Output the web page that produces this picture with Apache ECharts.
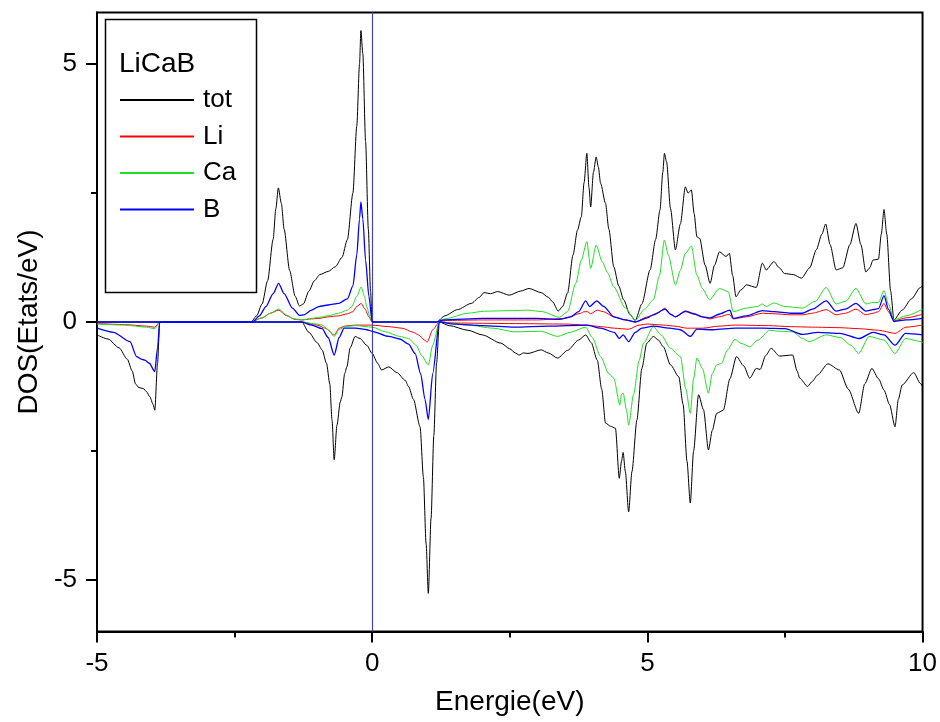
<!DOCTYPE html>
<html>
<head>
<meta charset="utf-8">
<script src="https://cdn.jsdelivr.net/npm/echarts@6/dist/echarts.min.js"></script>
<style>html,body{margin:0;padding:0;background:#fff}#c{width:940px;height:722px}</style>
</head>
<body>
<div id="c"></div>
<script>
// Energy (eV) / DOS (states/eV) pairs, spin up (positive) and spin down (negative)
var totUp = [[-5,0],[-2.2,0],[-2.1,0.12],[-2.0,0.35],[-1.9,0.8],[-1.8,1.6],[-1.75,2.2],[-1.705,2.6],[-1.65,2.3],[-1.6,1.8],[-1.5,1.0],[-1.4,0.5],[-1.32,0.31],[-1.25,0.35],[-1.15,0.6],[-1.05,0.8],[-0.95,0.92],[-0.8,0.98],[-0.67,1.07],[-0.55,1.25],[-0.45,1.6],[-0.35,2.5],[-0.28,3.8],[-0.23,5.0],[-0.205,5.65],[-0.17,5.2],[-0.12,3.5],[-0.07,1.8],[-0.03,0.6],[0,0],[1.17,0],[1.32,0.12],[1.55,0.24],[1.8,0.36],[1.95,0.48],[2.03,0.57],[2.15,0.55],[2.28,0.59],[2.49,0.52],[2.7,0.6],[2.85,0.65],[3.07,0.57],[3.2,0.48],[3.28,0.39],[3.38,0.21],[3.46,0.3],[3.55,0.56],[3.65,1.3],[3.73,1.78],[3.8,2.04],[3.85,2.7],[3.9,3.27],[3.94,2.6],[3.97,2.23],[4.02,2.9],[4.07,3.2],[4.11,3.0],[4.15,2.69],[4.24,2.3],[4.3,1.8],[4.39,1.07],[4.48,0.7],[4.57,0.43],[4.68,0.15],[4.78,0.03],[4.9,0.35],[5.05,1.01],[5.15,1.6],[5.23,2.17],[5.28,2.9],[5.31,3.27],[5.35,3.1],[5.42,2.2],[5.51,1.4],[5.6,1.9],[5.69,2.62],[5.74,2.5],[5.8,2.56],[5.85,2.1],[5.9,1.65],[5.95,1.62],[6.05,1.1],[6.14,0.75],[6.22,1.1],[6.31,1.36],[6.43,1.27],[6.49,1.33],[6.55,0.9],[6.61,0.49],[6.7,0.62],[6.8,0.72],[6.98,0.67],[7.09,1.14],[7.16,1.01],[7.3,1.17],[7.4,1.05],[7.49,0.94],[7.65,0.92],[7.8,0.85],[7.95,1.05],[8.07,1.4],[8.17,1.7],[8.24,1.9],[8.32,1.5],[8.43,1.01],[8.55,1.05],[8.68,1.5],[8.79,1.91],[8.88,1.5],[8.97,0.97],[9.04,1.05],[9.1,1.2],[9.2,1.22],[9.25,1.7],[9.3,2.18],[9.35,1.7],[9.42,0.6],[9.48,0.04],[9.63,0.23],[9.8,0.45],[9.96,0.67],[10,0.7]];
var totDown = [[-5,-0.25],[-4.8,-0.33],[-4.6,-0.5],[-4.45,-0.72],[-4.36,-0.95],[-4.3,-1.2],[-4.24,-1.27],[-4.16,-1.29],[-4.1,-1.35],[-4.04,-1.45],[-3.98,-1.6],[-3.95,-1.71],[-3.9,-0.8],[-3.86,0],[-1.28,0],[-1.15,-0.2],[-1.0,-0.4],[-0.91,-0.54],[-0.83,-0.8],[-0.77,-1.2],[-0.73,-1.9],[-0.69,-2.67],[-0.64,-2.0],[-0.58,-1.55],[-0.55,-1.45],[-0.5,-1.0],[-0.46,-0.87],[-0.4,-0.5],[-0.31,-0.28],[-0.22,-0.32],[-0.1,-0.45],[0,-0.61],[0.1,-0.8],[0.17,-0.93],[0.3,-0.87],[0.45,-0.98],[0.6,-1.13],[0.66,-1.25],[0.75,-1.5],[0.87,-2.03],[0.93,-3.0],[0.98,-4.3],[1.02,-5.26],[1.07,-3.8],[1.12,-2.2],[1.17,-0.8],[1.22,0],[1.4,-0.07],[1.74,-0.16],[2.0,-0.25],[2.34,-0.41],[2.5,-0.52],[2.6,-0.6],[2.67,-0.64],[2.75,-0.6],[2.83,-0.61],[3.07,-0.54],[3.2,-0.6],[3.37,-0.7],[3.55,-0.55],[3.75,-0.35],[3.88,-0.25],[3.98,-0.4],[4.09,-0.74],[4.17,-1.3],[4.24,-1.96],[4.33,-2.02],[4.42,-2.06],[4.49,-3.03],[4.53,-2.7],[4.56,-2.53],[4.6,-2.9],[4.66,-3.68],[4.72,-2.9],[4.81,-1.9],[4.9,-0.9],[4.99,-0.41],[5.11,-0.28],[5.2,-0.35],[5.29,-0.48],[5.42,-0.83],[5.57,-1.06],[5.65,-1.6],[5.72,-2.7],[5.78,-3.51],[5.84,-2.5],[5.93,-1.41],[6.02,-1.7],[6.11,-2.48],[6.18,-2.1],[6.26,-1.77],[6.38,-1.71],[6.5,-1.1],[6.62,-0.67],[6.75,-0.85],[6.86,-1.09],[6.98,-0.9],[7.05,-0.92],[7.15,-0.65],[7.25,-0.51],[7.4,-0.66],[7.64,-0.64],[7.72,-0.95],[7.77,-1.09],[7.91,-1.25],[8.0,-1.15],[8.09,-1.03],[8.28,-0.81],[8.49,-0.93],[8.65,-1.3],[8.84,-1.77],[8.95,-1.2],[9.08,-0.9],[9.2,-1.1],[9.3,-1.32],[9.4,-1.6],[9.5,-2.03],[9.56,-1.5],[9.63,-1.22],[9.84,-0.98],[9.96,-1.19],[10,-1.25]];
var liUp = [[-5,0],[-2.2,0],[-2.0,0.08],[-1.85,0.17],[-1.7,0.23],[-1.55,0.12],[-1.4,0.05],[-1.28,0.04],[-1.1,0.06],[-0.97,0.07],[-0.8,0.1],[-0.61,0.12],[-0.45,0.16],[-0.35,0.2],[-0.28,0.3],[-0.2,0.36],[-0.13,0.25],[-0.06,0.1],[0,0],[1.17,0],[1.3,0.03],[2.0,0.04],[3.0,0.04],[3.5,0.07],[3.79,0.17],[3.85,0.2],[3.91,0.2],[3.97,0.16],[4.09,0.23],[4.2,0.2],[4.39,0.1],[4.6,0.04],[4.78,0],[5.0,0.1],[5.2,0.18],[5.32,0.27],[5.42,0.15],[5.51,0.1],[5.69,0.2],[5.85,0.15],[6.0,0.1],[6.14,0.06],[6.3,0.1],[6.49,0.15],[6.56,0.06],[6.8,0.1],[7.09,0.17],[7.3,0.16],[7.6,0.14],[7.82,0.14],[8.0,0.17],[8.25,0.24],[8.43,0.14],[8.6,0.17],[8.79,0.25],[8.97,0.14],[9.1,0.17],[9.2,0.2],[9.3,0.36],[9.38,0.2],[9.48,0.02],[9.7,0.08],[10,0.15]];
var liDown = [[-5,-0.03],[-4.5,-0.05],[-4.1,-0.08],[-3.95,-0.1],[-3.86,0],[-1.28,0],[-1.0,-0.06],[-0.85,-0.12],[-0.69,-0.25],[-0.6,-0.12],[-0.5,-0.08],[-0.3,-0.06],[0,-0.06],[0.3,-0.09],[0.54,-0.12],[0.75,-0.2],[0.84,-0.25],[0.95,-0.35],[1.0,-0.39],[1.1,-0.15],[1.22,0],[1.5,-0.02],[2.5,-0.03],[3.5,-0.04],[3.9,-0.06],[4.15,-0.09],[4.4,-0.12],[4.66,-0.14],[4.85,-0.06],[5.0,-0.04],[5.3,-0.06],[5.5,-0.08],[5.72,-0.12],[6.0,-0.12],[6.3,-0.08],[6.6,-0.06],[7.2,-0.07],[7.6,-0.09],[8.0,-0.1],[8.5,-0.11],[8.85,-0.13],[9.2,-0.16],[9.5,-0.22],[9.7,-0.1],[10,-0.06]];
var caUp = [[-5,0],[-2.2,0],[-2.0,0.08],[-1.85,0.17],[-1.7,0.25],[-1.55,0.13],[-1.45,0.07],[-1.28,0.04],[-1.1,0.07],[-0.97,0.09],[-0.8,0.12],[-0.61,0.17],[-0.45,0.23],[-0.37,0.3],[-0.28,0.5],[-0.2,0.68],[-0.14,0.5],[-0.1,0.3],[-0.04,0.1],[0,0],[1.17,0],[1.32,0.06],[1.74,0.17],[2.04,0.21],[2.5,0.22],[2.83,0.23],[3.1,0.2],[3.4,0.09],[3.55,0.2],[3.7,0.75],[3.8,1.2],[3.9,1.56],[3.97,1.04],[4.07,1.49],[4.18,1.17],[4.28,0.95],[4.39,0.68],[4.6,0.27],[4.78,0.03],[4.95,0.25],[5.11,0.43],[5.22,0.9],[5.31,1.59],[5.38,1.3],[5.51,0.72],[5.6,1.0],[5.69,1.33],[5.8,1.47],[5.9,0.91],[6.0,0.65],[6.13,0.43],[6.31,0.65],[6.47,0.59],[6.56,0.2],[6.8,0.27],[7.0,0.3],[7.09,0.35],[7.16,0.3],[7.3,0.37],[7.5,0.3],[7.82,0.27],[8.05,0.4],[8.25,0.67],[8.43,0.35],[8.6,0.4],[8.79,0.65],[8.97,0.35],[9.1,0.38],[9.2,0.38],[9.3,0.61],[9.38,0.35],[9.48,0.04],[9.7,0.12],[10,0.25]];
var caDown = [[-5,-0.04],[-4.5,-0.06],[-4.1,-0.1],[-3.95,-0.13],[-3.86,0],[-1.28,0],[-1.0,-0.04],[-0.91,-0.06],[-0.8,-0.15],[-0.69,-0.28],[-0.6,-0.15],[-0.5,-0.09],[-0.3,-0.07],[0,-0.1],[0.24,-0.19],[0.5,-0.28],[0.66,-0.32],[0.8,-0.45],[0.9,-0.65],[1.02,-0.83],[1.1,-0.45],[1.22,0],[1.5,-0.03],[1.74,-0.06],[2.2,-0.12],[2.58,-0.19],[3.07,-0.18],[3.37,-0.28],[3.6,-0.2],[3.88,-0.1],[4.0,-0.3],[4.15,-0.67],[4.3,-1.0],[4.39,-1.09],[4.5,-1.61],[4.53,-1.4],[4.56,-1.38],[4.62,-1.7],[4.66,-2.0],[4.75,-1.4],[4.85,-0.75],[4.93,-0.41],[5.11,-0.09],[5.25,-0.25],[5.42,-0.51],[5.6,-0.67],[5.7,-1.3],[5.78,-1.77],[5.84,-1.1],[5.9,-0.7],[6.0,-0.9],[6.11,-1.38],[6.18,-1.0],[6.26,-0.83],[6.35,-0.8],[6.45,-0.55],[6.59,-0.34],[6.72,-0.42],[6.86,-0.48],[7.01,-0.35],[7.22,-0.16],[7.4,-0.18],[7.64,-0.19],[7.82,-0.32],[7.94,-0.38],[8.25,-0.25],[8.5,-0.3],[8.7,-0.45],[8.84,-0.61],[9.03,-0.28],[9.3,-0.35],[9.5,-0.61],[9.69,-0.32],[9.98,-0.38],[10,-0.4]];
var bUp = [[-5,0],[-2.17,0],[-2.05,0.12],[-1.93,0.3],[-1.8,0.55],[-1.7,0.75],[-1.6,0.55],[-1.45,0.27],[-1.32,0.13],[-1.24,0.14],[-1.1,0.23],[-0.97,0.3],[-0.8,0.33],[-0.61,0.36],[-0.45,0.45],[-0.35,0.7],[-0.28,1.3],[-0.23,2.0],[-0.205,2.33],[-0.17,2.0],[-0.12,1.2],[-0.06,0.5],[0,0],[1.17,0],[1.3,0.04],[2.0,0.07],[3.0,0.07],[3.4,0.05],[3.61,0.1],[3.75,0.2],[3.88,0.41],[3.95,0.3],[4.08,0.41],[4.21,0.3],[4.39,0.1],[4.6,0.04],[4.78,0],[5.0,0.08],[5.11,0.14],[5.32,0.25],[5.42,0.15],[5.51,0.1],[5.69,0.21],[5.85,0.16],[6.0,0.1],[6.14,0.08],[6.3,0.15],[6.5,0.23],[6.56,0.07],[6.8,0.12],[7.09,0.22],[7.3,0.2],[7.6,0.17],[7.82,0.17],[8.0,0.25],[8.25,0.41],[8.43,0.21],[8.6,0.25],[8.79,0.36],[8.97,0.21],[9.1,0.24],[9.2,0.26],[9.3,0.51],[9.38,0.25],[9.48,0.01],[9.7,0.04],[10,0.07]];
var bDown = [[-5,-0.12],[-4.7,-0.2],[-4.4,-0.38],[-4.28,-0.67],[-4.2,-0.72],[-4.13,-0.74],[-4.05,-0.8],[-3.95,-0.96],[-3.9,-0.5],[-3.86,0],[-1.28,0],[-1.1,-0.06],[-0.91,-0.13],[-0.8,-0.3],[-0.69,-0.64],[-0.6,-0.3],[-0.51,-0.12],[-0.3,-0.12],[-0.1,-0.15],[0,-0.18],[0.3,-0.28],[0.5,-0.33],[0.66,-0.43],[0.78,-0.61],[0.88,-1.0],[0.96,-1.5],[1.02,-1.89],[1.1,-1.0],[1.22,0],[1.5,-0.04],[2.0,-0.07],[2.58,-0.1],[3.2,-0.08],[3.9,-0.06],[4.15,-0.12],[4.4,-0.2],[4.49,-0.32],[4.56,-0.25],[4.66,-0.38],[4.78,-0.2],[4.9,-0.12],[5.11,-0.08],[5.4,-0.12],[5.6,-0.15],[5.78,-0.28],[5.9,-0.14],[6.2,-0.15],[6.6,-0.12],[7.1,-0.12],[7.5,-0.13],[7.82,-0.24],[8.1,-0.2],[8.5,-0.22],[8.85,-0.32],[9.1,-0.2],[9.3,-0.25],[9.5,-0.45],[9.69,-0.22],[10,-0.25]];

var seriesNames = ['tot', 'Li', 'Ca', 'B'];
var seriesColors = ['#000000', '#ff0000', '#22dd22', '#0000ff'];
var seriesData = [[totUp, totDown], [liUp, liDown], [caUp, caDown], [bUp, bDown]];
var xTickLabels = [-5, 0, 5, 10];
var yMajorTicks = [-5, 0, 5];
var yMinorTicks = [-2.5, 2.5];
var legendTitle = 'LiCaB';

var FONT = '"Liberation Sans", Arial, sans-serif';
var series = [];
seriesData.forEach(function (pair, i) {
  pair.forEach(function (d, j) {
    series.push({
      name: seriesNames[i], type: 'line', data: d, symbol: 'none',
      smooth: 0.25, smoothMonotone: 'x', animation: false,
      lineStyle: { color: seriesColors[i], width: i === 3 ? 1.3 : 1 },
      itemStyle: { color: seriesColors[i] },
      z: 2 + i
    });
  });
});
series[series.length - 1].markLine = {
  silent: true, symbol: 'none', animation: false,
  label: { show: false },
  lineStyle: { color: '#4646aa', width: 1.2, type: 'solid' },
  data: [{ xAxis: 0 }]
};

var chart = echarts.init(document.getElementById('c'));
chart.setOption({
  backgroundColor: '#fff',
  animation: false,
  grid: { left: 97, right: 13, top: 12.5, bottom: 90.5, show: true, borderColor: '#000', borderWidth: 2 },
  xAxis: {
    type: 'value', min: xTickLabels[0], max: xTickLabels[xTickLabels.length - 1], interval: 5,
    name: 'Energie(eV)', nameLocation: 'middle', nameGap: 57,
    nameTextStyle: { fontFamily: FONT, fontSize: 28, color: '#000' },
    axisLine: { onZero: false, lineStyle: { color: '#000', width: 2 } },
    axisTick: { inside: false, length: 11, lineStyle: { color: '#000', width: 2 } },
    minorTick: { show: true, splitNumber: 2, length: 6, lineStyle: { color: '#000', width: 2 } },
    axisLabel: { fontFamily: FONT, fontSize: 26, color: '#000', margin: 19 },
    splitLine: { show: false }, minorSplitLine: { show: false }
  },
  yAxis: [{
    type: 'value', min: -6, max: 6, position: 'left',
    name: 'DOS(Etats/eV)', nameLocation: 'middle', nameGap: 52,
    nameTextStyle: { fontFamily: FONT, fontSize: 28, color: '#000' },
    axisLine: { onZero: false, lineStyle: { color: '#000', width: 2 } },
    axisTick: { inside: false, length: 11, customValues: yMajorTicks, lineStyle: { color: '#000', width: 2 } },
    axisLabel: { fontFamily: FONT, fontSize: 26, color: '#000', margin: 20, customValues: yMajorTicks },
    splitLine: { show: false }
  }, {
    type: 'value', min: -6, max: 6, position: 'left',
    axisLine: { show: false, onZero: false },
    axisTick: { inside: false, length: 6, customValues: yMinorTicks, lineStyle: { color: '#000', width: 2 } },
    axisLabel: { show: false },
    splitLine: { show: false }
  }],
  legend: {
    orient: 'vertical', left: 114, top: 82,
    itemWidth: 74, itemHeight: 26, itemGap: 10.5,
    data: seriesNames,
    selectedMode: false,
    itemStyle: { opacity: 0 },
    textStyle: { fontFamily: FONT, fontSize: 26, color: '#000', lineHeight: 26, padding: [0, 0, 0, 4] }
  },
  graphic: [
    { type: 'rect', left: 103, top: 17, shape: { width: 151, height: 273 },
      style: { fill: 'none', stroke: '#000', lineWidth: 1.5 }, z: 100 },
    { type: 'text', left: 119, top: 50, style: { text: legendTitle, font: '28px ' + FONT, fill: '#000' }, z: 100 }
  ],
  series: series
});
</script>
</body>
</html>
